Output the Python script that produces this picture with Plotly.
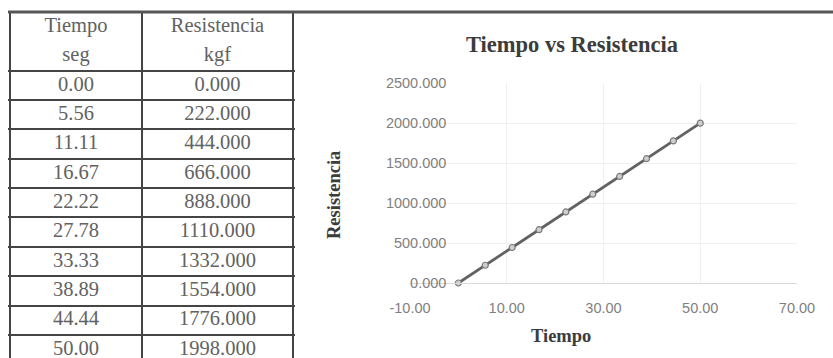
import plotly.graph_objects as go

W, H = 833, 358

# Measured values: time (s) and resistance (kgf)
tiempo = [0.00, 5.56, 11.11, 16.67, 22.22, 27.78, 33.33, 38.89, 44.44, 50.00]
resistencia = [0.0, 222.0, 444.0, 666.0, 888.0, 1110.0, 1332.0, 1554.0, 1776.0, 1998.0]

header_tiempo = ["Tiempo", "seg"]
header_resistencia = ["Resistencia", "kgf"]

chart_title = "Tiempo vs Resistencia"
x_title = "Tiempo"
y_title = "Resistencia"

x_ticks = [-10, 10, 30, 50, 70]
x_tick_labels = ["-10.00", "10.00", "30.00", "50.00", "70.00"]
y_ticks = [0, 500, 1000, 1500, 2000, 2500]


def fx(p):
    return p / W


def fy(p):
    return 1 - p / H


# ---- table geometry (pixels) ----
TABLE_LEFT = 10
TABLE_TOP = 12
ROW_H = 29.35
COL_EDGES = [0, 132, 283]
col_centers = [(COL_EDGES[i] + COL_EDGES[i + 1]) / 2 for i in range(2)]

col1_text = header_tiempo + [f"{t:.2f}" for t in tiempo]
col2_text = header_resistencia + [f"{r:.3f}" for r in resistencia]
rows = list(range(len(col1_text)))

n_head = len(header_tiempo)
row_bottom = -0.5 + (H - TABLE_TOP) / ROW_H
row_lines = [n_head - 0.5 + i for i in range(len(tiempo) + 1)]

serif = "Liberation Serif"
sans = "Liberation Sans"
table_font = dict(family=serif, size=20.5, color="#626262")

fig = go.Figure()

# table text, one trace per column
fig.add_trace(go.Scatter(
    x=[col_centers[0]] * len(rows), y=rows, text=col1_text,
    mode="text", textposition="middle center", textfont=table_font,
    xaxis="x2", yaxis="y2", hoverinfo="skip", showlegend=False,
))
fig.add_trace(go.Scatter(
    x=[col_centers[1]] * len(rows), y=rows, text=col2_text,
    mode="text", textposition="middle center", textfont=table_font,
    xaxis="x2", yaxis="y2", hoverinfo="skip", showlegend=False,
))

# chart series
fig.add_trace(go.Scatter(
    x=tiempo, y=resistencia, mode="lines+markers",
    line=dict(color="#626262", width=2.8),
    marker=dict(symbol="circle", size=6, color="#cfcfcf",
                line=dict(color="#7a7a7a", width=1.2)),
    cliponaxis=False, showlegend=False,
))

tick_font = dict(family=sans, size=14.5, color="#7f7f7f")
grid_c = "#f0f0f0"

x0_px, x1_px = 410, 797
y0_px, y1_px = 283, 83
xr = [-10, 70]
yaxis_pos_px = x0_px + (0 - xr[0]) / (xr[1] - xr[0]) * (x1_px - x0_px)

fig.update_layout(
    width=W, height=H,
    margin=dict(l=0, r=0, t=0, b=0, autoexpand=False),
    paper_bgcolor="white", plot_bgcolor="white",
    showlegend=False,
    xaxis=dict(
        domain=[fx(x0_px), fx(x1_px)], range=xr,
        tickvals=x_ticks, ticktext=x_tick_labels,
        showgrid=True, gridcolor=grid_c, gridwidth=1,
        zeroline=False, showline=True, linecolor="#dadada", linewidth=1,
        ticks="", ticklabelstandoff=12, tickfont=tick_font,
        automargin=False, fixedrange=True,
    ),
    yaxis=dict(
        domain=[fy(y0_px), fy(y1_px)], range=[0, 2500],
        anchor="free", position=fx(yaxis_pos_px),
        tickvals=y_ticks, tickformat=".3f",
        showgrid=True, gridcolor=grid_c, gridwidth=1,
        zeroline=False, showline=False,
        ticks="", ticklabelstandoff=12, tickfont=tick_font,
        automargin=False, fixedrange=True,
    ),
    xaxis2=dict(
        domain=[fx(TABLE_LEFT - 2), fx(TABLE_LEFT + COL_EDGES[-1] + 2)],
        range=[-2, COL_EDGES[-1] + 2], anchor="y2",
        tickvals=COL_EDGES, showticklabels=False, ticks="",
        showgrid=True, gridcolor="#454545", gridwidth=2.4,
        zeroline=False, showline=False, automargin=False, fixedrange=True,
    ),
    yaxis2=dict(
        domain=[0, fy(TABLE_TOP)],
        range=[row_bottom, -0.5], anchor="x2",
        tickvals=row_lines, showticklabels=False, ticks="",
        showgrid=True, gridcolor="#454545", gridwidth=2.2,
        zeroline=False, showline=False, automargin=False, fixedrange=True,
    ),
    title=dict(
        text=chart_title, x=fx(572), y=fy(44),
        xanchor="center", yanchor="middle", automargin=False,
        font=dict(family=serif, size=22.5, color="#3c3c3c", weight="bold"),
    ),
    annotations=[
        dict(text=x_title, xref="paper", yref="paper", x=fx(561), y=fy(336),
             xanchor="center", yanchor="middle", showarrow=False,
             font=dict(family=serif, size=18.5, color="#3c3c3c", weight="bold")),
        dict(text=y_title, xref="paper", yref="paper", x=fx(334), y=fy(195),
             xanchor="center", yanchor="middle", showarrow=False, textangle=-90,
             font=dict(family=serif, size=18.5, color="#3c3c3c", weight="bold")),
    ],
    shapes=[
        # heavy rule along the top of the sheet
        dict(type="line", xref="paper", yref="paper",
             x0=fx(8), x1=1, y0=fy(TABLE_TOP), y1=fy(TABLE_TOP),
             line=dict(color="#565656", width=3)),
    ],
)

fig.write_html("out.html")
